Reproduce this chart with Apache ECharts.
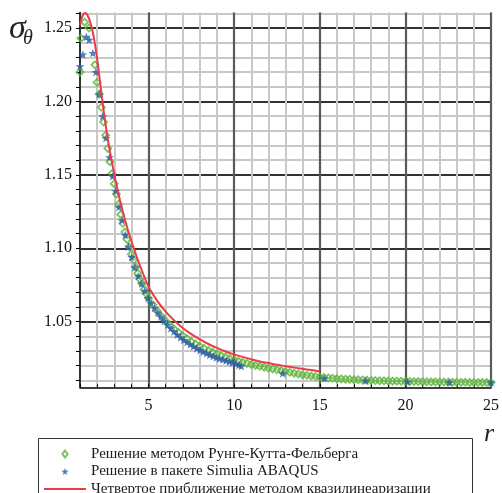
<!DOCTYPE html>
<html>
<head>
<meta charset="utf-8">
<script src="https://cdn.jsdelivr.net/npm/echarts@6/dist/echarts.min.js"></script>
<style>
html, body { margin: 0; padding: 0; background: #fff; }
#main { width: 502px; height: 493px; }
</style>
</head>
<body>
<div id="main"></div>
<script>
// Runge-Kutta-Fehlberg solution (green diamonds)
var rkfR = [1.00, 1.05, 1.27, 1.53, 1.87,
  2.000, 2.125, 2.250, 2.375, 2.500, 2.625, 2.750, 2.875, 3.000, 3.125, 3.250, 3.375,
  3.500, 3.625, 3.750, 3.875, 4.000, 4.125, 4.250, 4.375, 4.500, 4.625, 4.750, 4.875, 5.000,
  5.25, 5.50, 5.75, 6.00, 6.25, 6.50, 6.75, 7.00, 7.25, 7.50, 7.75, 8.00, 8.25, 8.50, 8.75,
  9.00, 9.25, 9.50, 9.75, 10.00, 10.25, 10.50, 10.75, 11.00, 11.25, 11.50, 11.75, 12.00,
  12.25, 12.50, 12.75, 13.00, 13.25, 13.50, 13.75, 14.00, 14.25, 14.50, 14.75, 15.00,
  15.25, 15.50, 15.75, 16.00, 16.25, 16.50, 16.75, 17.00, 17.25, 17.50, 17.75, 18.00,
  18.25, 18.50, 18.75, 19.00, 19.25, 19.50, 19.75, 20.00, 20.25, 20.50, 20.75, 21.00,
  21.25, 21.50, 21.75, 22.00, 22.25, 22.50, 22.75, 23.00, 23.25, 23.50, 23.75, 24.00,
  24.25, 24.50, 24.75, 25.00];
var rkfS = [1.220, 1.243, 1.254, 1.250, 1.225,
  1.213, 1.205, 1.196, 1.186, 1.177, 1.168, 1.159, 1.151, 1.144, 1.137, 1.130, 1.123,
  1.117, 1.111, 1.106, 1.101, 1.096, 1.092, 1.087, 1.083, 1.079, 1.076, 1.072, 1.069, 1.066,
  1.0615, 1.0574, 1.0538, 1.0506, 1.0477, 1.0450, 1.0426, 1.0404, 1.0384, 1.0365, 1.0348,
  1.0332, 1.0318, 1.0304, 1.0292, 1.0280, 1.0269, 1.0259, 1.0249, 1.0240, 1.0231, 1.0223,
  1.0216, 1.0209, 1.0202, 1.0196, 1.0190, 1.0184, 1.0178, 1.0172, 1.0166, 1.0160, 1.0155,
  1.0149, 1.0144, 1.0139, 1.0135, 1.0130, 1.0126, 1.0122, 1.0119, 1.0117, 1.0114, 1.0112,
  1.0110, 1.0108, 1.0107, 1.0105, 1.0104, 1.0103, 1.0101, 1.0100, 1.0099, 1.0098, 1.0097,
  1.0096, 1.0095, 1.0095, 1.0094, 1.0093, 1.0093, 1.0092, 1.0092, 1.0091, 1.0091, 1.0090,
  1.0090, 1.0089, 1.0089, 1.0088, 1.0088, 1.0087, 1.0087, 1.0087, 1.0086, 1.0086, 1.0086,
  1.0086, 1.0085, 1.0085];

// Simulia ABAQUS solution (blue stars)
var abqR = [1.00, 1.17, 1.37, 1.54, 1.75, 1.93, 2.12, 2.32, 2.51, 2.72, 2.90, 3.08, 3.27,
  3.45, 3.64, 3.83, 4.02, 4.21, 4.40, 4.59, 4.78, 4.97, 5.16, 5.35, 5.54, 5.73, 5.92, 6.11,
  6.30, 6.49, 6.68, 6.87, 7.06, 7.25, 7.44, 7.63, 7.82, 8.01, 8.20, 8.39, 8.58, 8.77, 8.96,
  9.15, 9.34, 9.53, 9.72, 9.91, 10.10, 10.28, 10.42,
  12.84, 15.26, 17.68, 20.13, 22.56, 25.00];
var abqS = [1.224, 1.232, 1.244, 1.242, 1.233, 1.220, 1.205, 1.190, 1.175, 1.162, 1.149, 1.139, 1.128,
  1.119, 1.109, 1.101, 1.094, 1.087, 1.081, 1.076, 1.071, 1.066, 1.0625, 1.0593, 1.0562, 1.0533, 1.0505, 1.0478,
  1.0455, 1.0433, 1.0412, 1.0393, 1.0375, 1.0360, 1.0345, 1.0332, 1.0318, 1.0306, 1.0295, 1.0284, 1.0274, 1.0265, 1.0256,
  1.0248, 1.0242, 1.0235, 1.0228, 1.0221, 1.0214, 1.0205, 1.0198,
  1.0148, 1.0114, 1.0098, 1.0091, 1.0087, 1.0086];

// fourth quasilinearization approximation (red line)
var quasiR = [1.0, 1.1, 1.2, 1.3, 1.4, 1.5, 1.6, 1.7, 1.8, 1.9, 2.0, 2.1, 2.2, 2.3, 2.4, 2.6, 2.8,
  3.0, 3.2, 3.4, 3.6, 3.8, 4.0, 4.2, 4.4, 4.6, 4.8, 5.0, 5.5, 6.0, 6.5, 7.0, 7.5, 8.0, 8.5,
  9.0, 9.5, 10.0, 10.5, 11.0, 11.5, 12.0, 12.5, 13.0, 13.5, 14.0, 14.5, 15.0];
var quasiS = [1.252, 1.2567, 1.2595, 1.2603, 1.2595, 1.2572, 1.2540, 1.2495, 1.2440, 1.2370, 1.2290,
  1.2200, 1.2105, 1.2010, 1.1920, 1.1760, 1.1625, 1.1505, 1.1395, 1.1295, 1.1205, 1.1125, 1.1050,
  1.0980, 1.0913, 1.0852, 1.0793, 1.0738, 1.0643, 1.0568, 1.0508, 1.0457, 1.0415, 1.0379, 1.0348,
  1.0321, 1.0297, 1.0277, 1.0260, 1.0244, 1.0229, 1.0218, 1.0206, 1.0197, 1.0187, 1.0179, 1.0171, 1.0160];

var seriesNames = [
  "Решение методом Рунге-Кутта-Фельберга",
  "Решение в пакете Simulia ABAQUS",
  "Четвертое приближение методом квазилинеаризации"
];

// ticks
var xMinorTicks = [1, 2, 3, 4, 5, 6, 7, 8, 9, 10, 11, 12, 13, 14, 15, 16, 17, 18, 19, 20, 21, 22, 23, 24, 25];
var xMajorTicks = [5, 10, 15, 20, 25];
var yMinorTicks = [1.01, 1.02, 1.03, 1.04, 1.05, 1.06, 1.07, 1.08, 1.09, 1.10, 1.11, 1.12, 1.13,
  1.14, 1.15, 1.16, 1.17, 1.18, 1.19, 1.20, 1.21, 1.22, 1.23, 1.24, 1.25, 1.26];
var yMajorTicks = [1.05, 1.10, 1.15, 1.20, 1.25];

function pairs(xs, ys) {
  return xs.map(function (x, i) { return [x, ys[i]]; });
}

var starPath = "path://M0,-10L2.35,-3.24L9.51,-3.09L3.8,1.24L5.88,8.09L0,4.1L-5.88,8.09L-3.8,1.24L-9.51,-3.09L-2.35,-3.24Z";
var diamondPath = "path://M0,-10L7.5,0L0,10L-7.5,0Z";
var serif = "Liberation Serif";

var chart = echarts.init(document.getElementById("main"));

var option = {
  animation: false,
  backgroundColor: "#fff",
  grid: { left: 80, right: 9, top: 12.5, bottom: 105.7, containLabel: false },
  xAxis: [
    {
      type: "value", min: 1, max: 25,
      axisLine: { lineStyle: { color: "#000", width: 1.5 } },
      axisTick: { inside: true, length: 3, customValues: xMinorTicks, lineStyle: { color: "#000" } },
      axisLabel: { customValues: xMajorTicks, margin: 10, fontFamily: serif, fontSize: 16, color: "#111" },
      splitLine: { show: true, lineStyle: { color: "#c8c8c8", width: 2 } }
    },
    {
      type: "value", min: 1, max: 25, position: "bottom",
      axisLine: { show: false },
      axisTick: { show: false, customValues: xMajorTicks },
      axisLabel: { show: false },
      splitLine: { show: true, lineStyle: { color: "#5a5a5a", width: 2.2 } }
    }
  ],
  yAxis: [
    {
      type: "value", min: 1.0053, max: 1.2606,
      axisLine: { show: true, lineStyle: { color: "#000", width: 1.5 } },
      axisTick: { show: true, inside: false, length: 4, customValues: yMinorTicks, lineStyle: { color: "#000" } },
      axisLabel: {
        customValues: yMajorTicks, margin: 8, fontFamily: serif, fontSize: 16, color: "#111",
        formatter: function (v) { return v.toFixed(2); }
      },
      splitLine: { show: true, lineStyle: { color: "#c8c8c8", width: 2 } }
    },
    {
      type: "value", min: 1.0053, max: 1.2606, position: "left",
      axisLine: { show: false },
      axisTick: { show: false, customValues: yMajorTicks },
      axisLabel: { show: false },
      splitLine: { show: true, lineStyle: { color: "#000", width: 1.5 } }
    }
  ],
  legend: {
    orient: "vertical",
    left: 43, top: 446.5, height: 80,
    padding: 0,
    itemWidth: 42, itemHeight: 7, itemGap: 2.5,
    symbolKeepAspect: true,
    textStyle: { fontFamily: serif, fontSize: 15, color: "#1a1a1a" },
    data: [
      { name: seriesNames[0], icon: diamondPath },
      { name: seriesNames[1] },
      { name: seriesNames[2], itemStyle: { opacity: 0 } }
    ]
  },
  graphic: [
    {
      type: "rect", z: 0,
      shape: { x: 38.5, y: 438.5, width: 434, height: 70 },
      style: { fill: "#fff", stroke: "#333", lineWidth: 1 }
    },
    {
      type: "text", left: 9, top: 12,
      style: { text: "σ", font: "italic 34px Liberation Serif", fill: "#222" }
    },
    {
      type: "text", left: 23, top: 29,
      style: { text: "θ", font: "italic 20px Liberation Serif", fill: "#222" }
    },
    {
      type: "text", left: 484, top: 421,
      style: { text: "r", font: "italic 26px Liberation Serif", fill: "#222" }
    }
  ],
  series: [
    {
      name: seriesNames[0], type: "scatter", z: 2,
      symbol: "diamond", symbolSize: 7,
      itemStyle: { color: "rgba(255,255,255,0)", borderColor: "#5cb43a", borderWidth: 1.8 },
      data: pairs(rkfR, rkfS)
    },
    {
      name: seriesNames[1], type: "scatter", z: 3,
      symbol: starPath, symbolSize: 9, symbolKeepAspect: true,
      itemStyle: { color: "#2b5ba8" },
      data: pairs(abqR, abqS)
    },
    {
      name: seriesNames[2], type: "line", z: 4,
      symbol: "none", showSymbol: false, smooth: 0.3, clip: false,
      lineStyle: { color: "#ef3a48", width: 2 },
      itemStyle: { color: "#ef3a48" },
      data: pairs(quasiR, quasiS)
    }
  ]
};

chart.setOption(option);
</script>
</body>
</html>
